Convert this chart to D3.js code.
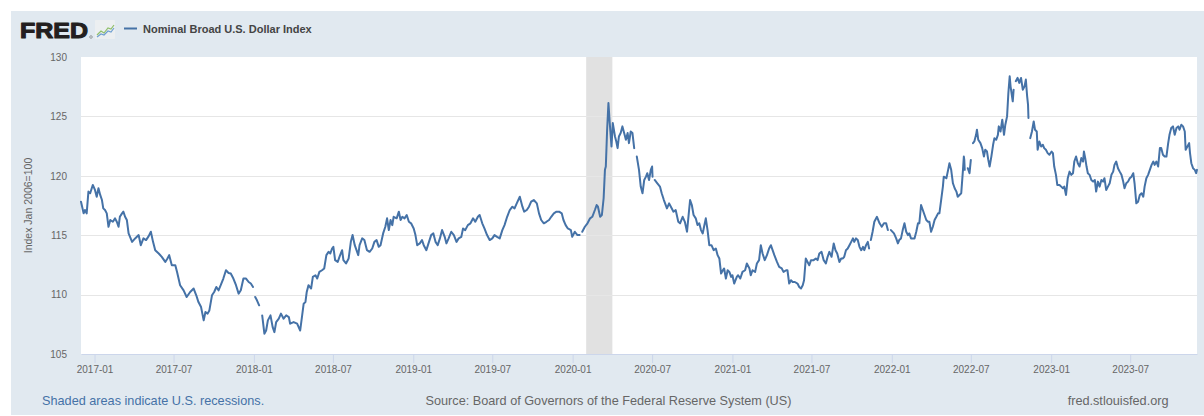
<!DOCTYPE html>
<html>
<head>
<meta charset="utf-8">
<script src="https://cdn.jsdelivr.net/npm/d3@7"></script>
<style>
  html, body { margin: 0; padding: 0; background: #ffffff; }
  svg { display: block; font-family: "Liberation Sans", Arial, sans-serif; }
</style>
</head>
<body>
<svg id="chart" width="1204" height="416"></svg>
<script>
// ---------------- DATA ----------------
const seriesName = "Nominal Broad U.S. Dollar Index";
const yAxisTitle = "Index Jan 2006=100";
const yTicks = [105, 110, 115, 120, 125, 130];
const xTickLabels = ["2017-01","2017-07","2018-01","2018-07","2019-01","2019-07","2020-01",
                     "2020-07","2021-01","2021-07","2022-01","2022-07","2023-01","2023-07"];
const recessionStarts = ["2020-02-01"];
const recessionEnds = ["2020-04-01"];
const footerNote = "Shaded areas indicate U.S. recessions.";
const footerSource = "Source: Board of Governors of the Federal Reserve System (US)";
const footerUrl = "fred.stlouisfed.org";

const dates = [
"2016-12-01","2016-12-07","2016-12-10","2016-12-14","2016-12-18","2016-12-22","2016-12-28","2017-01-02","2017-01-06","2017-01-10",
"2017-01-14","2017-01-18","2017-01-21","2017-01-25","2017-01-29","2017-02-02","2017-02-06","2017-02-12","2017-02-17","2017-02-21",
"2017-02-25","2017-02-28","2017-03-05","2017-03-08","2017-03-12","2017-03-16","2017-03-20","2017-03-28","2017-04-04","2017-04-12",
"2017-04-17","2017-04-23","2017-04-29","2017-05-05","2017-05-10","2017-05-15","2017-05-20","2017-05-28","2017-06-04","2017-06-12",
"2017-06-17","2017-06-21","2017-06-27","2017-07-05","2017-07-09","2017-07-16","2017-07-24","2017-07-31","2017-08-08","2017-08-16",
"2017-08-22","2017-08-27","2017-09-02","2017-09-08","2017-09-12","2017-09-17","2017-09-21","2017-09-27","2017-10-02","2017-10-07",
"2017-10-12","2017-10-17","2017-10-23","2017-10-29","2017-11-04","2017-11-09","2017-11-15","2017-11-21","2017-11-27","2017-12-02",
"2017-12-08","2017-12-14","2017-12-20","2017-12-25","2017-12-30","2018-01-01","2018-01-04","2018-01-08","2018-01-13","2018-01-15",
"2018-01-20","2018-01-25","2018-01-29","2018-02-02","2018-02-08","2018-02-13","2018-02-17","2018-02-21","2018-02-27","2018-03-04",
"2018-03-10","2018-03-16","2018-03-22","2018-03-25","2018-04-02","2018-04-10","2018-04-17","2018-04-21","2018-04-25","2018-04-29",
"2018-05-02","2018-05-06","2018-05-12","2018-05-16","2018-05-22","2018-05-26","2018-05-31","2018-06-06","2018-06-11","2018-06-16",
"2018-06-21","2018-06-25","2018-06-29","2018-07-02","2018-07-06","2018-07-12","2018-07-16","2018-07-22","2018-07-25","2018-07-31",
"2018-08-06","2018-08-11","2018-08-15","2018-08-20","2018-08-24","2018-08-28","2018-08-31","2018-09-06","2018-09-11","2018-09-17",
"2018-09-23","2018-09-29","2018-10-04","2018-10-09","2018-10-14","2018-10-18","2018-10-24","2018-10-29","2018-11-02","2018-11-06",
"2018-11-10","2018-11-14","2018-11-17","2018-11-24","2018-11-29","2018-12-03","2018-12-07","2018-12-12","2018-12-17","2018-12-22",
"2018-12-27","2019-01-02","2019-01-06","2019-01-10","2019-01-16","2019-01-21","2019-01-25","2019-01-31","2019-02-06","2019-02-11",
"2019-02-16","2019-02-21","2019-02-26","2019-03-03","2019-03-08","2019-03-14","2019-03-18","2019-03-23","2019-03-29","2019-04-04",
"2019-04-10","2019-04-15","2019-04-21","2019-04-25","2019-04-30","2019-05-06","2019-05-12","2019-05-18","2019-05-23","2019-05-29",
"2019-06-02","2019-06-08","2019-06-13","2019-06-19","2019-06-25","2019-07-01","2019-07-06","2019-07-12","2019-07-18","2019-07-24",
"2019-07-29","2019-08-04","2019-08-10","2019-08-16","2019-08-21","2019-08-26","2019-09-02","2019-09-08","2019-09-12","2019-09-18",
"2019-09-23","2019-09-28","2019-10-04","2019-10-11","2019-10-16","2019-10-21","2019-10-27","2019-11-02","2019-11-08","2019-11-13",
"2019-11-19","2019-11-25","2019-12-01","2019-12-07","2019-12-11","2019-12-16","2019-12-21","2019-12-28","2019-12-31","2020-01-06",
"2020-01-12","2020-01-17","2020-01-20","2020-01-23","2020-01-29","2020-02-04","2020-02-10","2020-02-15","2020-02-21","2020-02-25",
"2020-02-28","2020-03-04","2020-03-08","2020-03-12","2020-03-15","2020-03-17","2020-03-20","2020-03-23","2020-03-26","2020-03-30",
"2020-04-02","2020-04-07","2020-04-10","2020-04-13","2020-04-16","2020-04-20","2020-04-24","2020-04-28","2020-05-02","2020-05-06",
"2020-05-09","2020-05-13","2020-05-17","2020-05-21","2020-05-25","2020-05-27","2020-06-01","2020-06-05","2020-06-09","2020-06-13",
"2020-06-17","2020-06-20","2020-06-24","2020-06-28","2020-07-01","2020-07-02","2020-07-03","2020-07-07","2020-07-13","2020-07-19",
"2020-07-23","2020-07-28","2020-08-04","2020-08-09","2020-08-13","2020-08-19","2020-08-24","2020-08-30","2020-09-03","2020-09-09",
"2020-09-14","2020-09-19","2020-09-23","2020-09-26","2020-09-30","2020-10-04","2020-10-09","2020-10-13","2020-10-17","2020-10-21",
"2020-10-25","2020-10-28","2020-11-01","2020-11-05","2020-11-09","2020-11-14","2020-11-19","2020-11-24","2020-11-28","2020-12-02",
"2020-12-06","2020-12-10","2020-12-13","2020-12-17","2020-12-21","2020-12-25","2020-12-29","2021-01-01","2021-01-05","2021-01-11",
"2021-01-14","2021-01-19","2021-01-24","2021-01-30","2021-02-03","2021-02-09","2021-02-12","2021-02-16","2021-02-22","2021-02-26",
"2021-03-03","2021-03-07","2021-03-11","2021-03-16","2021-03-21","2021-03-26","2021-03-30","2021-04-03","2021-04-07","2021-04-13",
"2021-04-18","2021-04-24","2021-04-28","2021-05-04","2021-05-07","2021-05-11","2021-05-15","2021-05-19","2021-05-24","2021-05-30",
"2021-06-03","2021-06-07","2021-06-11","2021-06-14","2021-06-18","2021-06-22","2021-06-26","2021-06-30","2021-07-06","2021-07-11",
"2021-07-15","2021-07-19","2021-07-24","2021-07-29","2021-08-03","2021-08-07","2021-08-11","2021-08-16","2021-08-21","2021-08-25",
"2021-08-29","2021-09-03","2021-09-07","2021-09-11","2021-09-14","2021-09-18","2021-09-22","2021-09-26","2021-09-30","2021-10-04",
"2021-10-07","2021-10-11","2021-10-15","2021-10-19","2021-10-23","2021-10-27","2021-10-30","2021-11-03","2021-11-07","2021-11-10",
"2021-11-11","2021-11-14","2021-11-18","2021-11-22","2021-11-28","2021-12-04","2021-12-09","2021-12-14","2021-12-19","2021-12-23",
"2021-12-24","2021-12-30","2022-01-06","2022-01-11","2022-01-15","2022-01-18","2022-01-22","2022-01-26","2022-01-30","2022-02-03",
"2022-02-07","2022-02-10","2022-02-14","2022-02-18","2022-02-22","2022-02-26","2022-03-02","2022-03-05","2022-03-09","2022-03-13",
"2022-03-17","2022-03-21","2022-03-25","2022-03-28","2022-04-01","2022-04-05","2022-04-09","2022-04-13","2022-04-17","2022-04-20",
"2022-04-24","2022-04-28","2022-04-30","2022-05-06","2022-05-10","2022-05-13","2022-05-17","2022-05-21","2022-05-25","2022-05-29",
"2022-06-01","2022-06-05","2022-06-09","2022-06-13","2022-06-15","2022-06-16","2022-06-17","2022-06-20","2022-06-24","2022-06-28",
"2022-07-01","2022-07-04","2022-07-06","2022-07-09","2022-07-13","2022-07-15","2022-07-18","2022-07-23","2022-07-27","2022-07-31",
"2022-08-03","2022-08-07","2022-08-10","2022-08-13","2022-08-17","2022-08-21","2022-08-24","2022-08-28","2022-09-01","2022-09-03",
"2022-09-07","2022-09-11","2022-09-15","2022-09-18","2022-09-22","2022-09-25","2022-09-28","2022-09-30","2022-10-05","2022-10-07",
"2022-10-10","2022-10-12","2022-10-16","2022-10-20","2022-10-24","2022-10-28","2022-11-01","2022-11-04","2022-11-07","2022-11-09",
"2022-11-10","2022-11-11","2022-11-14","2022-11-18","2022-11-22","2022-11-25","2022-11-29","2022-12-01","2022-12-05","2022-12-09",
"2022-12-13","2022-12-16","2022-12-20","2022-12-24","2022-12-28","2023-01-02","2023-01-05","2023-01-08","2023-01-12","2023-01-15",
"2023-01-20","2023-01-24","2023-01-28","2023-01-31","2023-02-04","2023-02-08","2023-02-12","2023-02-16","2023-02-20","2023-02-23",
"2023-02-27","2023-03-03","2023-03-07","2023-03-11","2023-03-15","2023-03-17","2023-03-20","2023-03-23","2023-03-26","2023-03-30",
"2023-04-03","2023-04-07","2023-04-11","2023-04-14","2023-04-18","2023-04-22","2023-04-26","2023-04-30","2023-05-03","2023-05-07",
"2023-05-11","2023-05-15","2023-05-19","2023-05-23","2023-05-26","2023-05-30","2023-06-03","2023-06-07","2023-06-11","2023-06-15",
"2023-06-18","2023-06-22","2023-06-26","2023-06-30","2023-07-04","2023-07-08","2023-07-11","2023-07-15","2023-07-19","2023-07-23",
"2023-07-27","2023-07-31","2023-08-03","2023-08-07","2023-08-11","2023-08-15","2023-08-19","2023-08-23","2023-08-26","2023-08-30",
"2023-09-03","2023-09-07","2023-09-10","2023-09-14","2023-09-18","2023-09-22","2023-09-26","2023-09-29","2023-10-03","2023-10-07",
"2023-10-11","2023-10-15","2023-10-19","2023-10-22","2023-10-26","2023-10-30","2023-11-03","2023-11-05","2023-11-09","2023-11-13",
"2023-11-15","2023-11-18","2023-11-22","2023-11-26","2023-11-29","2023-12-01"
];

const values = [
117.82,116.84,117.12,116.84,118.67,118.53,119.23,118.81,118.24,118.95,
118.39,117.96,117.26,117.12,116.84,115.71,116.28,116.13,116.42,116.13,
115.71,116.55,116.84,116.98,116.55,116.28,115.15,114.44,114.73,115.01,
114.16,114.73,114.59,114.92,115.29,114.44,113.74,113.46,113.18,112.75,
113.04,113.32,112.47,112.47,111.91,110.79,110.36,109.80,110.22,110.51,
109.94,109.37,108.95,107.83,108.53,108.40,108.67,109.94,110.22,110.64,
110.36,110.79,111.35,112.05,111.82,111.77,111.35,110.79,110.08,110.36,
111.35,111.35,111.06,110.93,110.64,null,109.80,109.52,109.10,null,
108.25,106.71,106.98,107.83,108.25,107.26,106.84,107.69,107.97,108.40,
107.97,108.25,108.11,107.55,107.69,107.55,106.98,108.11,109.24,109.37,
110.22,110.79,110.51,111.49,111.63,111.35,111.91,112.05,112.20,113.32,
113.60,113.46,113.88,114.02,112.90,112.75,113.18,113.74,112.90,112.62,
113.04,114.44,115.01,114.16,113.74,113.32,114.16,114.73,114.59,113.74,
113.60,113.88,114.44,114.59,114.02,114.16,115.15,115.71,116.42,115.43,
116.28,115.85,116.55,116.42,116.98,116.28,116.55,116.42,116.70,116.13,
116.00,115.57,115.01,114.16,114.31,114.59,114.16,113.74,114.44,115.01,
115.15,114.44,114.16,114.73,115.43,114.86,114.31,114.73,115.29,115.01,
114.44,114.73,114.86,115.57,115.43,115.85,116.00,116.42,116.13,116.55,
116.70,116.00,115.57,115.01,114.59,114.73,115.01,114.86,114.73,115.43,
115.85,116.55,117.12,117.40,117.26,117.68,118.24,117.40,116.98,117.12,
117.40,117.82,117.96,117.68,116.84,116.28,116.00,116.13,116.28,116.55,
116.84,116.98,116.98,116.84,116.28,115.85,115.57,115.43,114.86,115.29,
115.01,115.01,null,115.29,115.71,116.00,116.42,116.55,117.12,117.54,
117.40,116.55,116.70,118.11,120.50,120.78,123.88,126.13,124.44,122.47,
124.44,123.31,122.89,122.33,123.31,123.60,124.16,123.60,123.03,123.60,
122.75,123.73,123.60,122.33,null,121.62,120.50,119.09,118.53,119.65,
119.93,120.22,119.65,120.50,120.78,119.93,null,119.65,119.37,119.09,
118.53,117.96,117.26,117.68,117.40,116.98,117.12,116.13,116.00,116.55,
116.13,115.29,116.84,117.96,117.54,116.70,116.42,115.85,116.00,115.43,
115.15,115.71,116.42,115.43,114.16,114.16,113.74,113.88,113.32,113.04,
111.77,112.05,112.20,111.35,112.05,111.91,111.49,111.63,110.93,111.49,
111.63,111.35,111.91,112.05,112.62,112.20,111.63,112.05,111.91,112.62,
112.90,114.16,113.46,112.90,113.32,113.88,114.16,113.74,113.32,112.75,
112.33,112.20,111.91,112.05,112.05,110.93,111.21,111.06,111.06,110.93,
110.64,110.51,110.79,111.21,113.04,112.75,112.47,112.90,112.90,113.04,
112.90,113.46,113.60,112.90,112.62,113.18,113.60,113.18,114.31,113.74,
113.46,112.75,113.04,113.04,113.18,113.74,113.88,114.16,114.44,114.73,
114.44,114.73,114.59,114.02,113.74,114.02,113.74,114.16,114.44,113.88,
null,114.59,115.29,116.13,116.55,116.00,115.71,116.00,116.00,115.43,
null,115.43,115.15,114.73,114.31,114.59,114.73,115.43,116.00,115.29,
115.01,115.15,114.73,114.73,114.73,115.29,116.00,116.00,117.54,117.12,
116.70,116.28,116.13,116.13,115.29,115.71,116.28,116.55,116.84,116.84,
117.96,119.09,119.93,119.80,120.50,121.06,120.50,119.37,118.95,118.67,
118.24,118.39,118.53,120.50,121.62,121.34,120.50,null,120.64,120.22,
121.34,null,122.75,122.89,123.45,123.88,123.03,122.75,122.33,121.62,
122.19,122.04,121.34,120.78,121.62,122.61,123.17,123.03,123.45,124.16,
123.73,124.72,123.45,124.30,125.00,126.98,128.38,127.53,126.27,127.25,
null,127.96,128.24,127.82,128.24,127.25,127.53,128.10,126.69,125.99,
124.86,null,123.17,123.73,124.58,123.88,123.73,122.19,122.89,122.47,
122.61,122.33,122.19,121.91,121.77,122.04,121.91,120.78,120.08,119.23,
119.23,119.09,118.95,119.09,118.39,119.80,120.35,120.08,120.22,121.20,
121.62,121.06,120.78,121.49,121.20,122.04,121.49,120.78,120.22,120.08,
119.65,119.51,119.65,118.67,119.51,119.09,119.65,119.51,119.80,118.81,
119.09,119.37,120.08,120.35,120.92,121.20,120.64,120.35,120.08,119.51,
118.95,119.37,119.51,119.80,119.93,120.22,119.37,117.68,117.82,118.39,
118.53,118.24,119.09,119.80,120.08,120.50,120.92,121.20,120.92,121.20,
120.78,122.33,122.33,121.77,121.62,121.62,122.75,123.45,124.02,124.16,
123.45,124.02,124.16,123.88,124.30,124.16,123.73,122.19,122.47,122.75,
121.91,121.06,120.64,120.50,120.22,120.50
];

// ---------------- DRAWING ----------------
if (dates.length !== values.length) {
  throw new Error("dates/values length mismatch: " + dates.length + " vs " + values.length);
}

const parseDay = d3.timeParse("%Y-%m-%d");
const parseMonth = d3.timeParse("%Y-%m");
const data = dates.map((d, i) => ({ date: parseDay(d), value: values[i] }));

const W = 1204, H = 416;
const plot = { left: 81, right: 1197, top: 57, bottom: 354 };

const svg = d3.select("#chart");

// outer panel
svg.append("rect").attr("x", 11).attr("y", 11).attr("width", W - 11).attr("height", H - 12)
  .attr("fill", "#e1e9f0");

// plot background
svg.append("rect")
  .attr("x", plot.left).attr("y", plot.top)
  .attr("width", plot.right - plot.left).attr("height", plot.bottom - plot.top)
  .attr("fill", "#ffffff");

const x = d3.scaleTime()
  .domain(d3.extent(data, d => d.date))
  .range([plot.left, plot.right]);

const y = d3.scaleLinear()
  .domain([d3.min(yTicks), d3.max(yTicks)])
  .range([plot.bottom, plot.top]);

// recession shading
svg.append("g").selectAll("rect")
  .data(recessionStarts.map((s, i) => [parseDay(s), parseDay(recessionEnds[i])]))
  .join("rect")
  .attr("x", d => x(d[0]))
  .attr("y", plot.top)
  .attr("width", d => x(d[1]) - x(d[0]))
  .attr("height", plot.bottom - plot.top)
  .attr("fill", "#e1e1e1");

// gridlines
svg.append("g").selectAll("line")
  .data(yTicks.filter(t => t !== d3.min(yTicks) && t !== d3.max(yTicks)))
  .join("line")
  .attr("x1", plot.left).attr("x2", plot.right)
  .attr("y1", d => Math.round(y(d)) + 0.5).attr("y2", d => Math.round(y(d)) + 0.5)
  .attr("stroke", "#e6e6e6").attr("stroke-width", 1);

// y axis labels
const yAxis = d3.axisLeft(y).tickValues(yTicks).tickSize(0).tickPadding(14).tickFormat(d3.format("d"));
const gy = svg.append("g").attr("transform", `translate(${plot.left},0)`).call(yAxis);
gy.select(".domain").remove();
gy.selectAll("text").attr("fill", "#666666").attr("font-size", "10px")
  .attr("font-family", "'Liberation Sans', Arial, sans-serif");

// x axis
const xAxis = d3.axisBottom(x)
  .tickValues(xTickLabels.map(s => parseMonth(s)))
  .tickFormat(d3.timeFormat("%Y-%m"))
  .tickSize(9).tickSizeOuter(0).tickPadding(3);
const gx = svg.append("g").attr("transform", `translate(0,${plot.bottom})`).call(xAxis);
gx.select(".domain").attr("stroke", "#ccd6eb");
gx.selectAll(".tick line").attr("stroke", "#ccd6eb");
gx.selectAll("text").attr("fill", "#666666").attr("font-size", "10px")
  .attr("font-family", "'Liberation Sans', Arial, sans-serif");

// y axis title
svg.append("text")
  .attr("transform", `translate(32,${(plot.top + plot.bottom) / 2}) rotate(-90)`)
  .attr("text-anchor", "middle")
  .attr("font-size", "10.5px").attr("fill", "#666666")
  .text(yAxisTitle);

// series line
const line = d3.line()
  .defined(d => d.value != null)
  .x(d => x(d.date))
  .y(d => y(d.value));

svg.append("path")
  .datum(data)
  .attr("fill", "none")
  .attr("stroke", "#4572a7")
  .attr("stroke-width", 2)
  .attr("stroke-linejoin", "round")
  .attr("stroke-linecap", "round")
  .attr("d", line);

// ---------------- HEADER ----------------
svg.append("text")
  .attr("x", 20).attr("y", 38)
  .attr("font-size", "22.5px").attr("font-weight", "900")
  .attr("fill", "#231f20").attr("stroke", "#231f20").attr("stroke-width", 1.1)
  .attr("stroke-linejoin", "round")
  .attr("textLength", 68).attr("lengthAdjust", "spacingAndGlyphs")
  .text("FRED");
svg.append("circle").attr("cx", 91).attr("cy", 37).attr("r", 1.3)
  .attr("fill", "none").attr("stroke", "#555").attr("stroke-width", 0.5);

// small graph icon
const icon = svg.append("g").attr("transform", "translate(95,20)");
icon.append("rect").attr("width", 20).attr("height", 19).attr("fill", "#eceff1").attr("rx", 1);
icon.append("polyline").attr("points", "2,15 6,11 9,13 13,8 16,9 19,5")
  .attr("fill", "none").attr("stroke", "#8fbf6a").attr("stroke-width", 1.2);
icon.append("polyline").attr("points", "2,17 6,14 9,15 13,11 16,12 19,8")
  .attr("fill", "none").attr("stroke", "#6f9fd0").attr("stroke-width", 1.2);

// legend
svg.append("line").attr("x1", 124).attr("x2", 137).attr("y1", 28.5).attr("y2", 28.5)
  .attr("stroke", "#4572a7").attr("stroke-width", 2);
svg.append("text").attr("x", 143).attr("y", 33)
  .attr("font-size", "11px").attr("font-weight", "bold").attr("fill", "#444444")
  .text(seriesName);

// ---------------- FOOTER ----------------
svg.append("text").attr("x", 42).attr("y", 405)
  .attr("font-size", "12.7px").attr("fill", "#4572a7")
  .text(footerNote);
svg.append("text").attr("x", 608.5).attr("y", 405).attr("text-anchor", "middle")
  .attr("font-size", "12.7px").attr("fill", "#666666")
  .text(footerSource);
svg.append("text").attr("x", 1168.5).attr("y", 405).attr("text-anchor", "end")
  .attr("font-size", "12.7px").attr("fill", "#666666")
  .text(footerUrl);
</script>
</body>
</html>
